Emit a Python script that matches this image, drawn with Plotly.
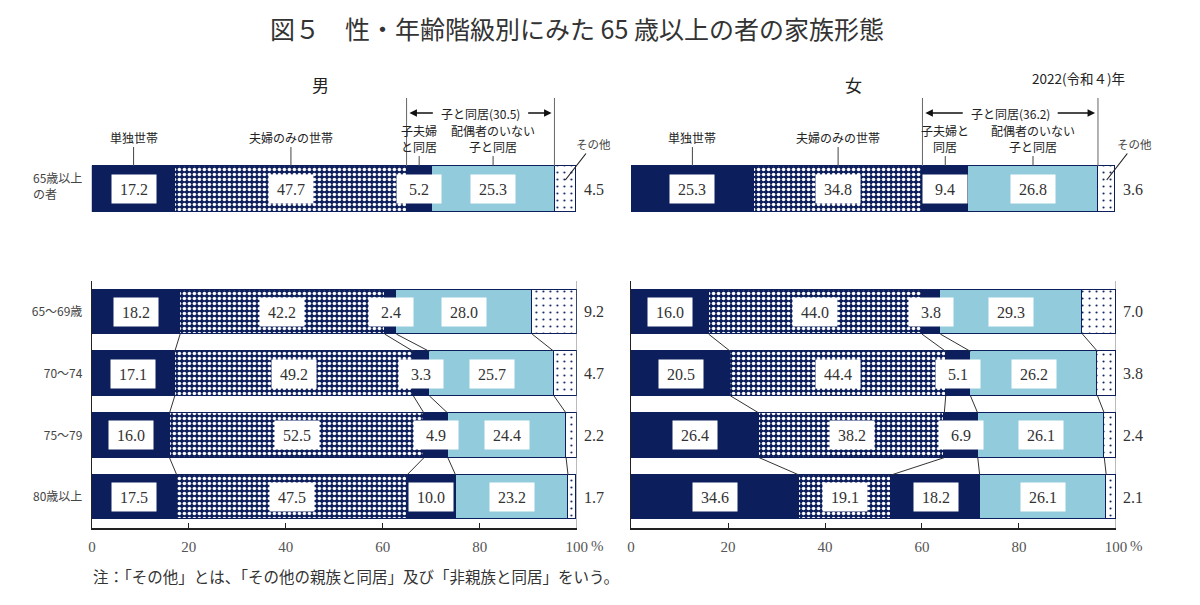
import plotly.graph_objects as go

W, H = 1200, 605

# ---------------- data ----------------
categories = ["単独世帯", "夫婦のみの世帯", "子夫婦と同居", "配偶者のいない子と同居", "その他"]
header_labels_male = ["単独世帯", "夫婦のみの世帯", "子夫婦<br>と同居", "配偶者のいない<br>子と同居", "その他"]
header_labels_female = ["単独世帯", "夫婦のみの世帯", "子夫婦と<br>同居", "配偶者のいない<br>子と同居", "その他"]
age_groups = ["65～69歳", "70～74", "75～79", "80歳以上"]
total_label = "65歳以上<br>の者"

male_total = [17.2, 47.7, 5.2, 25.3, 4.5]
male_65_69 = [18.2, 42.2, 2.4, 28.0, 9.2]
male_70_74 = [17.1, 49.2, 3.3, 25.7, 4.7]
male_75_79 = [16.0, 52.5, 4.9, 24.4, 2.2]
male_80plus = [17.5, 47.5, 10.0, 23.2, 1.7]

female_total = [25.3, 34.8, 9.4, 26.8, 3.6]
female_65_69 = [16.0, 44.0, 3.8, 29.3, 7.0]
female_70_74 = [20.5, 44.4, 5.1, 26.2, 3.8]
female_75_79 = [26.4, 38.2, 6.9, 26.1, 2.4]
female_80plus = [34.6, 19.1, 18.2, 26.1, 2.1]

tick_vals = [0, 20, 40, 60, 80, 100]
tick_text = ["0", "20", "40", "60", "80", "100"]

title_text = "図５　性・年齢階級別にみた 65 歳以上の者の家族形態"
footnote = "注：「その他」とは、「その他の親族と同居」及び「非親族と同居」をいう。"
year_text = "2022(令和４)年"

# ---------------- styles ----------------
NAVY = "#0c1f5c"
LIGHT = "#92cbdc"
JP = "Noto Sans CJK JP"
SERIF = "Liberation Serif"
TXT = "#333333"


def px(x):
    return x / W


def py(y):
    return 1 - y / H


LEFT = (89, 580)
RIGHT = (635, 1126)
TOP_DOM = (162, 216)
BOT_DOM = (281, 528)
TOP_W = 0.85
BOT_W = 0.72


def seg_marker(k):
    base = dict(line=dict(color=NAVY, width=1))
    if k == 0 or k == 2:
        base["color"] = NAVY
    elif k == 1:
        base["color"] = NAVY
        base["pattern"] = dict(shape=".", bgcolor=NAVY, fgcolor="white",
                               size=5, solidity=0.4, fillmode="replace")
    elif k == 3:
        base["color"] = LIGHT
    else:
        base["color"] = "white"
        base["pattern"] = dict(shape=".", bgcolor="white", fgcolor=NAVY,
                               size=7, solidity=0.07, fillmode="replace")
    return base


fig = go.Figure()
annotations = []
shapes = []

panels = [
    dict(xa="x", ya="y", xa2="x2", ya2="y2", dom=LEFT, total=male_total,
         rows=[male_65_69, male_70_74, male_75_79, male_80plus],
         headers=header_labels_male, title="男", title_x=320),
    dict(xa="x3", ya="y3", xa2="x4", ya2="y4", dom=RIGHT, total=female_total,
         rows=[female_65_69, female_70_74, female_75_79, female_80plus],
         headers=header_labels_female, title="女", title_x=860),
]


def cumsum(vals):
    out = [0.0]
    for v in vals:
        out.append(out[-1] + v)
    return out


for p in panels:
    # top bar
    for k in range(5):
        fig.add_trace(go.Bar(orientation="h", x=[p["total"][k]], y=[0], width=TOP_W,
                             xaxis=p["xa"], yaxis=p["ya"], marker=seg_marker(k),
                             showlegend=False, hoverinfo="skip", name=categories[k]))
    # bottom bars
    for k in range(5):
        fig.add_trace(go.Bar(orientation="h", x=[r[k] for r in p["rows"]],
                             y=list(range(len(p["rows"]))), width=BOT_W,
                             xaxis=p["xa2"], yaxis=p["ya2"], marker=seg_marker(k),
                             showlegend=False, hoverinfo="skip", name=categories[k]))

    # value labels
    def add_labels(vals, yv, xr, yr):
        c = cumsum(vals)
        for k in range(4):
            annotations.append(dict(x=c[k] + vals[k] / 2, y=yv, xref=xr, yref=yr,
                                    xanchor="center", yanchor="middle",
                                    text=f"{vals[k]:.1f}", showarrow=False,
                                    bgcolor="white", width=38, height=22, borderpad=3,
                                    font=dict(family=SERIF, size=16, color=TXT)))
        annotations.append(dict(x=100, y=yv, xref=xr, yref=yr, xanchor="left",
                                yanchor="middle", xshift=5,
                                text=f"{vals[4]:.1f}", showarrow=False,
                                font=dict(family=SERIF, size=16, color=TXT)))

    add_labels(p["total"], 0, p["xa"], p["ya"])
    for i, r in enumerate(p["rows"]):
        add_labels(r, i, p["xa2"], p["ya2"])

    # connecting lines between bottom bars
    for i in range(len(p["rows"]) - 1):
        c1 = cumsum(p["rows"][i])
        c2 = cumsum(p["rows"][i + 1])
        for k in range(1, 5):
            shapes.append(dict(type="line", xref=p["xa2"], yref=p["ya2"],
                               x0=c1[k], y0=i + BOT_W / 2, x1=c2[k], y1=i + 1 - BOT_W / 2,
                               line=dict(color="#333333", width=1)))

    # 100% gray line
    shapes.append(dict(type="line", xref=p["xa2"], yref=p["ya2"] + " domain",
                       x0=100, x1=100, y0=0, y1=1, layer="below",
                       line=dict(color="#888888", width=1)))

    # header labels with leader lines
    ct = cumsum(p["total"])
    bar_top = py(TOP_DOM[0] + (0.5 - TOP_W / 2) * (TOP_DOM[1] - TOP_DOM[0]))
    for k in range(4):
        two = "<br>" in p["headers"][k]
        annotations.append(dict(x=ct[k] + p["total"][k] / 2, y=bar_top, xref=p["xa"], yref="paper",
                                text=p["headers"][k], showarrow=True, arrowhead=0,
                                arrowwidth=1, arrowcolor="#444444", ax=0,
                                ay=-28 if two else -29, standoff=0,
                                font=dict(family=JP, size=12, color="#222222")))
    # その他 label
    annotations.append(dict(x=ct[4] + p["total"][4] / 2, y=py(180), xref=p["xa"], yref="paper",
                            text=p["headers"][4], showarrow=True, arrowhead=0,
                            arrowwidth=1.2, arrowcolor="#222222", ax=28, ay=-36, standoff=0,
                            font=dict(family=JP, size=11.5, color="#444444")))

    # bracket for 子と同居
    for xv in (ct[2], ct[4]):
        shapes.append(dict(type="line", xref=p["xa"], yref="paper", x0=xv, x1=xv,
                           y0=py(98), y1=bar_top, line=dict(color="#666666", width=1)))
    live_with_child = p["total"][2] + p["total"][3]
    mid = (ct[2] + ct[4]) / 2
    annotations.append(dict(x=mid, y=py(113), xref=p["xa"], yref="paper",
                            xanchor="center", yanchor="middle",
                            text=f"子と同居({live_with_child:.1f})", showarrow=False,
                            font=dict(family=JP, size=12, color="#222222")))
    span_px = (ct[4] - ct[2]) * (p["dom"][1] - p["dom"][0]) / 100
    arr = max(14, (span_px - 100) / 2)
    annotations.append(dict(x=ct[2] + 0.6, y=py(113), xref=p["xa"], yref="paper", text="",
                            showarrow=True, arrowhead=2, arrowsize=1, arrowwidth=1.5,
                            arrowcolor="#111111", ax=arr, ay=0, standoff=0))
    annotations.append(dict(x=ct[4] - 0.6, y=py(113), xref=p["xa"], yref="paper", text="",
                            showarrow=True, arrowhead=2, arrowsize=1, arrowwidth=1.5,
                            arrowcolor="#111111", ax=-arr, ay=0, standoff=0))

    # panel title
    annotations.append(dict(x=px(p["title_x"]), y=py(85), xref="paper", yref="paper",
                            xanchor="center", yanchor="middle", text=p["title"],
                            showarrow=False, font=dict(family=JP, size=17, color="#222222")))

# top-left y label
annotations.append(dict(x=0, y=0, xref="x", yref="y", xanchor="right", yanchor="middle",
                        xshift=-8, yshift=4, text=total_label, align="left", showarrow=False,
                        font=dict(family=JP, size=12, color="#444444")))
# year
annotations.append(dict(x=px(1088), y=py(78), xref="paper", yref="paper", text=year_text,
                        xanchor="center", yanchor="middle",
                        showarrow=False, font=dict(family=JP, size=13.5, color="#222222")))
# title
annotations.append(dict(x=px(580), y=py(28), xref="paper", yref="paper", text=title_text,
                        xanchor="center", yanchor="middle",
                        showarrow=False, font=dict(family=JP, size=25, color="#333333")))
# footnote
annotations.append(dict(x=px(88), y=py(576), xref="paper", yref="paper", xanchor="left",
                        yanchor="middle", text=footnote, showarrow=False,
                        font=dict(family=JP, size=15.5, color="#333333")))
# % after 100
for xa in ("x2", "x4"):
    annotations.append(dict(x=100, y=py(546), xref=xa, yref="paper", xanchor="left",
                            yanchor="middle", xshift=12, text="%", showarrow=False,
                            font=dict(family=SERIF, size=15, color="#555555")))


def top_x(dom):
    return dict(domain=[px(dom[0]), px(dom[1])], range=[0, 100], visible=False, fixedrange=True)


def top_y(anchor):
    return dict(domain=[py(TOP_DOM[1]), py(TOP_DOM[0])], range=[-0.5, 0.5], visible=False,
                anchor=anchor)


def bot_x(dom, anchor):
    return dict(domain=[px(dom[0]), px(dom[1])], range=[0, 100], anchor=anchor,
                showline=True, linecolor="#222222", linewidth=1.5, showgrid=False,
                zeroline=False, ticks="inside", ticklen=5, tickcolor="#222222",
                tickvals=tick_vals, ticktext=tick_text, ticklabelstandoff=4,
                tickfont=dict(family=SERIF, size=15, color="#555555"))


def bot_y(anchor, labels):
    d = dict(domain=[py(BOT_DOM[1]), py(BOT_DOM[0])], range=[3.5, -0.5], anchor=anchor,
             showline=True, linecolor="#222222", linewidth=1.2, showgrid=False,
             zeroline=False, ticks="", tickvals=list(range(len(age_groups))))
    if labels:
        d["ticktext"] = age_groups
        d["tickfont"] = dict(family=JP, size=12, color="#444444")
        d["ticklabelstandoff"] = 6
    else:
        d["showticklabels"] = False
    return d


fig.update_layout(
    width=W, height=H, margin=dict(l=0, r=0, t=0, b=0),
    paper_bgcolor="white", plot_bgcolor="white",
    barmode="stack", bargap=0, showlegend=False,
    xaxis=dict(top_x(LEFT), anchor="y"), yaxis=top_y("x"),
    xaxis2=bot_x(LEFT, "y2"), yaxis2=bot_y("x2", True),
    xaxis3=dict(top_x(RIGHT), anchor="y3"), yaxis3=top_y("x3"),
    xaxis4=bot_x(RIGHT, "y4"), yaxis4=bot_y("x4", False),
    annotations=annotations, shapes=shapes,
)

fig.write_html("out.html")
